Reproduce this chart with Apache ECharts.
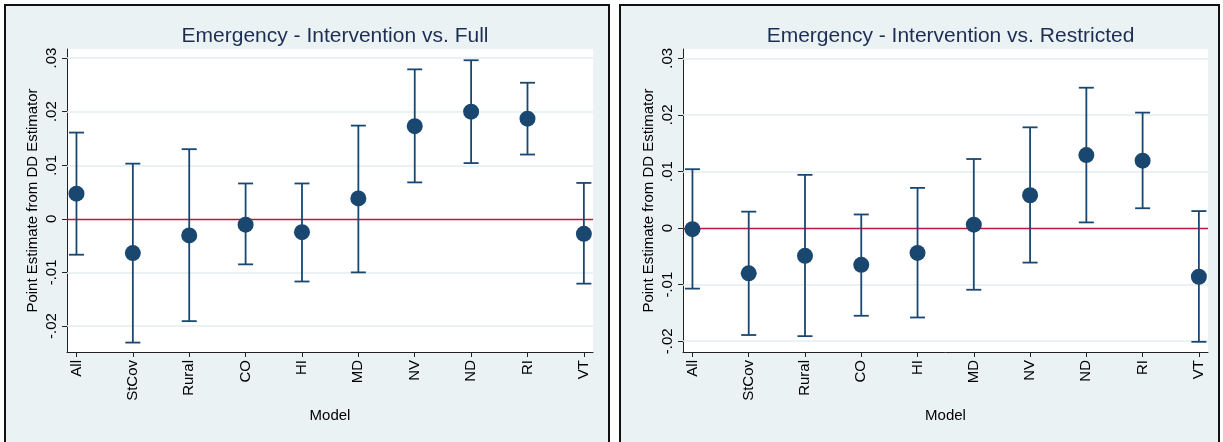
<!DOCTYPE html>
<html>
<head>
<meta charset="utf-8">
<script src="https://cdn.jsdelivr.net/npm/echarts@6/dist/echarts.min.js"></script>
<style>
  html, body { margin: 0; padding: 0; background: #ffffff; }
  #chart { width: 1223px; height: 442px; }
</style>
</head>
<body>
<div id="chart"></div>
<script>
// Models compared on the x axis
const categories = ['All', 'StCov', 'Rural', 'CO', 'HI', 'MD', 'NV', 'ND', 'RI', 'VT'];

// Intervention vs. Full: point estimates and confidence bounds
const fullEst  = [0.0047, -0.0064, -0.0031, -0.0011, -0.0025, 0.0038, 0.0173, 0.0200, 0.0187, -0.0028];
const fullLow  = [-0.0067, -0.0231, -0.0191, -0.0085, -0.0117, -0.0100, 0.0068, 0.0104, 0.0120, -0.0121];
const fullHigh = [0.0161, 0.0103, 0.0130, 0.0066, 0.0066, 0.0174, 0.0279, 0.0296, 0.0254, 0.0067];

// Intervention vs. Restricted: point estimates and confidence bounds
const restEst  = [-0.0002, -0.0080, -0.0049, -0.0065, -0.0044, 0.0006, 0.0058, 0.0129, 0.0119, -0.0086];
const restLow  = [-0.0107, -0.0189, -0.0191, -0.0155, -0.0158, -0.0109, -0.0061, 0.0010, 0.0035, -0.0201];
const restHigh = [0.0104, 0.0029, 0.0094, 0.0024, 0.0071, 0.0122, 0.0178, 0.0248, 0.0204, 0.0030];

// Y tick values
const yTicks = [-0.02, -0.01, 0, 0.01, 0.02, 0.03];

const FONT = "'Liberation Sans', Arial, Helvetica, sans-serif";
const NAVY = '#1a476f';
const PANEL_BG = '#eaf2f3';
const GRID_LINE = '#e4eef1';
const ZERO_RED = '#c0143c';

function fmtTick(v) {
  if (Math.abs(v) < 1e-12) return '0';
  const s = Math.abs(v).toFixed(2).replace(/^0/, '');
  return (v < 0 ? '-' : '') + s;
}

const chart = echarts.init(document.getElementById('chart'), null, { renderer: 'canvas' });

const panels = [
  { title: 'Emergency - Intervention vs. Full', est: fullEst, low: fullLow, high: fullHigh,
    grid: { left: 67, top: 49, width: 526, height: 303 }, ymin: -0.02486, ymax: 0.0317,
    box: { x: 5, y: 5, w: 604 } },
  { title: 'Emergency - Intervention vs. Restricted', est: restEst, low: restLow, high: restHigh,
    grid: { left: 683, top: 49, width: 525, height: 303 }, ymin: -0.0219, ymax: 0.03164,
    box: { x: 620, y: 5, w: 599 } }
];

const grids = [], xAxes = [], yAxes = [], series = [], titles = [], graphics = [];

panels.forEach((p, i) => {
  graphics.push({
    type: 'rect', z: -10,
    shape: { x: p.box.x, y: p.box.y, width: p.box.w, height: 460 },
    style: { fill: PANEL_BG, stroke: '#111', lineWidth: 2 }
  });

  grids.push(Object.assign({ show: true, backgroundColor: '#ffffff', borderWidth: 0 }, p.grid));

  titles.push({
    text: p.title,
    left: p.grid.left + p.grid.width / 2,
    top: 21,
    textAlign: 'center',
    textStyle: { fontFamily: FONT, fontSize: 21, fontWeight: 'normal', color: '#1e2d53' }
  });

  xAxes.push({
    gridIndex: i, type: 'value', min: -0.168, max: 9.162,
    name: 'Model', nameLocation: 'middle', nameGap: 56,
    nameTextStyle: { fontFamily: FONT, fontSize: 15, color: '#000' },
    axisLine: { show: true, onZero: false, lineStyle: { color: '#222', width: 1 } },
    axisTick: { show: true, length: 5, customValues: categories.map((_, k) => k), lineStyle: { color: '#222' } },
    axisLabel: {
      show: true, rotate: 90, margin: 8, customValues: categories.map((_, k) => k),
      fontFamily: FONT, fontSize: 15, color: '#000',
      formatter: v => categories[Math.round(v)] || ''
    },
    splitLine: { show: false }
  });

  yAxes.push({
    gridIndex: i, type: 'value', min: p.ymin, max: p.ymax,
    name: 'Point Estimate from DD Estimator', nameLocation: 'middle', nameGap: 27,
    nameRotate: 90,
    nameTextStyle: { fontFamily: FONT, fontSize: 15, color: '#000' },
    axisLine: { show: true, onZero: false, lineStyle: { color: '#222', width: 1 } },
    axisTick: { show: true, length: 5, customValues: yTicks, lineStyle: { color: '#222' } },
    axisLabel: {
      show: true, rotate: 90, margin: 8, customValues: yTicks,
      fontFamily: FONT, fontSize: 15, color: '#000',
      formatter: v => fmtTick(v)
    },
    splitLine: { show: false }
  });

  // Horizontal gridlines at tick values, kept beneath the marks
  series.push({
    type: 'line', xAxisIndex: i, yAxisIndex: i, data: [], silent: true, z: 1,
    markLine: {
      z: 1, silent: true, symbol: ['none', 'none'], label: { show: false },
      lineStyle: { color: GRID_LINE, width: 1.5, type: 'solid' },
      data: yTicks.filter(v => v !== 0).map(v => ({ yAxis: v }))
    }
  });

  // Reference line at zero
  series.push({
    type: 'line', xAxisIndex: i, yAxisIndex: i, data: [], silent: true, z: 2,
    markLine: {
      z: 2, silent: true, symbol: ['none', 'none'], label: { show: false },
      lineStyle: { color: ZERO_RED, width: 1.3, type: 'solid' },
      data: [{ yAxis: 0 }]
    }
  });

  // Confidence intervals with caps
  series.push({
    type: 'custom', xAxisIndex: i, yAxisIndex: i, z: 3, silent: true,
    data: categories.map((_, k) => [k, p.low[k], p.high[k]]),
    renderItem: (params, api) => {
      const x = api.value(0);
      const top = api.coord([x, api.value(2)]);
      const bot = api.coord([x, api.value(1)]);
      const w = 7.5;
      const st = { stroke: NAVY, lineWidth: 1.8 };
      return {
        type: 'group',
        children: [
          { type: 'line', shape: { x1: top[0], y1: top[1], x2: bot[0], y2: bot[1] }, style: st },
          { type: 'line', shape: { x1: top[0] - w, y1: top[1], x2: top[0] + w, y2: top[1] }, style: st },
          { type: 'line', shape: { x1: bot[0] - w, y1: bot[1], x2: bot[0] + w, y2: bot[1] }, style: st }
        ]
      };
    }
  });

  // Point estimates
  series.push({
    type: 'scatter', xAxisIndex: i, yAxisIndex: i, z: 4, silent: true,
    symbol: 'circle', symbolSize: 16,
    itemStyle: { color: NAVY, opacity: 1 },
    data: categories.map((_, k) => [k, p.est[k]])
  });
});

chart.setOption({
  animation: false,
  backgroundColor: '#ffffff',
  title: titles,
  grid: grids,
  xAxis: xAxes,
  yAxis: yAxes,
  series: series,
  graphic: graphics
});
</script>
</body>
</html>
